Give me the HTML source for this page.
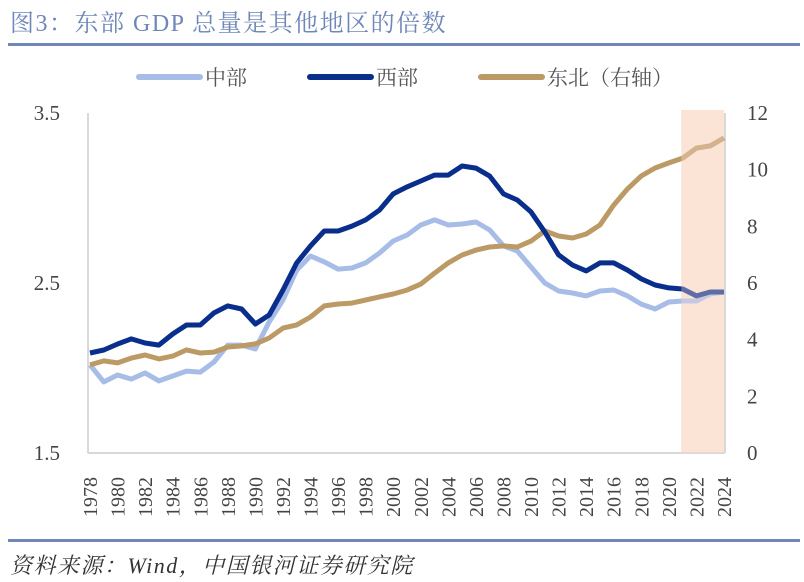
<!DOCTYPE html>
<html><head><meta charset="utf-8">
<style>
body{margin:0;background:#fff;}
svg{display:block;}
text{font-family:"Liberation Serif","Noto Serif CJK SC",serif;}
</style></head>
<body>
<svg id="chart" width="804" height="582" viewBox="0 0 804 582" xmlns="http://www.w3.org/2000/svg">
<text x="10" y="31" font-size="24" letter-spacing="1.5" fill="#6f86b9">图3：东部 GDP 总量是其他地区的倍数</text>
<rect x="8" y="43" width="792" height="3" fill="#6f86b9"/>
<rect x="8" y="539" width="792" height="3" fill="#6f86b9"/>
<text x="10" y="573" font-size="22" letter-spacing="1.5" font-style="italic" fill="#333">资料来源：Wind，中国银河证券研究院</text>
<g>
<line x1="139" y1="77" x2="200" y2="77" stroke="#a7bce6" stroke-width="6" stroke-linecap="round"/>
<text x="205" y="85" font-size="21" fill="#555">中部</text>
<line x1="310" y1="77" x2="371" y2="77" stroke="#0a2e8c" stroke-width="6" stroke-linecap="round"/>
<text x="376" y="85" font-size="21" fill="#555">西部</text>
<line x1="481" y1="77" x2="542" y2="77" stroke="#bc9a66" stroke-width="6" stroke-linecap="round"/>
<text x="547" y="85" font-size="21" fill="#555">东北（右轴）</text>
</g>
<g id="plot"></g>
</svg>
<script>
const years=[];for(let y=1978;y<=2024;y++)years.push(y);
const central=[2.018,1.918,1.959,1.935,1.971,1.924,1.953,1.982,1.976,2.035,2.135,2.135,2.112,2.271,2.4,2.576,2.659,2.624,2.582,2.588,2.618,2.676,2.747,2.782,2.841,2.871,2.841,2.847,2.859,2.812,2.718,2.688,2.594,2.5,2.453,2.441,2.424,2.453,2.459,2.424,2.376,2.347,2.388,2.394,2.394,2.435,2.447];
const west=[2.088,2.106,2.141,2.171,2.147,2.135,2.2,2.253,2.253,2.324,2.365,2.347,2.259,2.312,2.459,2.618,2.718,2.806,2.806,2.835,2.871,2.929,3.024,3.065,3.1,3.135,3.135,3.188,3.176,3.129,3.024,2.988,2.918,2.8,2.665,2.606,2.571,2.618,2.618,2.576,2.524,2.488,2.471,2.465,2.424,2.447,2.447];
const northeast=[3.11,3.25,3.18,3.35,3.46,3.32,3.42,3.64,3.53,3.56,3.74,3.78,3.85,4.06,4.41,4.52,4.8,5.19,5.26,5.29,5.4,5.51,5.61,5.75,5.96,6.35,6.71,6.99,7.16,7.27,7.31,7.27,7.48,7.84,7.66,7.59,7.73,8.05,8.75,9.32,9.78,10.06,10.24,10.41,10.76,10.84,11.12];
const leftTicks=["1.5","2.5","3.5"];
const rightTicks=["0","2","4","6","8","10","12"];
const shadeRange=[2020.9,2024];

const NS="http://www.w3.org/2000/svg";
const g=document.getElementById('plot');
const X0=90,X1=724,Y0=453,Y1=113;
const xs=y=>X0+(y-1978)*(X1-X0)/46;
const yl=v=>Y0-(v-1.5)*(Y0-Y1)/2;
const yr=v=>Y0-v*(Y0-Y1)/12;
function mk(tag,attrs){const e=document.createElementNS(NS,tag);for(const k in attrs)e.setAttribute(k,attrs[k]);g.appendChild(e);return e;}

let sh=mk('rect',{x:xs(shadeRange[0]),y:110,width:xs(shadeRange[1])-xs(shadeRange[0]),height:Y0-110,fill:'#fbe3d6'});



let la=mk('line',{x1:88,y1:Y1,x2:88,y2:Y0,stroke:'#d9d9d9','stroke-width':2});


let ra=mk('line',{x1:725,y1:Y1,x2:725,y2:Y0,stroke:'#d9d9d9','stroke-width':2});


let ba=mk('line',{x1:88,y1:Y0,x2:725,y2:Y0,stroke:'#d9d9d9','stroke-width':2});



leftTicks.forEach(t=>{const e=mk('text',{x:60,y:yl(+t)+7,'font-size':21,fill:'#444','text-anchor':'end'});e.textContent=t;

});
rightTicks.forEach(t=>{const e=mk('text',{x:747,y:yr(+t)+7,'font-size':21,fill:'#444','text-anchor':'start'});e.textContent=t;

});
years.forEach(y=>{if((y-1978)%2)return;const x=xs(y)+7;const e=mk('text',{x:x,y:517,'font-size':20,fill:'#444',transform:`rotate(-90 ${x} 517)`});e.textContent=y;

});

function line(data,ys,color,name){const d=data.map((v,i)=>(i?'L':'M')+xs(years[i]).toFixed(1)+','+ys(v).toFixed(1)).join('');
const p=mk('path',{d:d,fill:'none',stroke:color,'stroke-width':5,'stroke-linejoin':'round'});

}
line(central,yl,'#a7bce6','central-line');
line(northeast,yr,'#bc9a66','northeast-line');
line(west,yl,'#0a2e8c','west-line');
let ov=mk('rect',{x:xs(shadeRange[0]),y:110,width:xs(shadeRange[1])-xs(shadeRange[0]),height:Y0-110,fill:'#fbe3d6',opacity:0.35});


</script>
</body></html>
